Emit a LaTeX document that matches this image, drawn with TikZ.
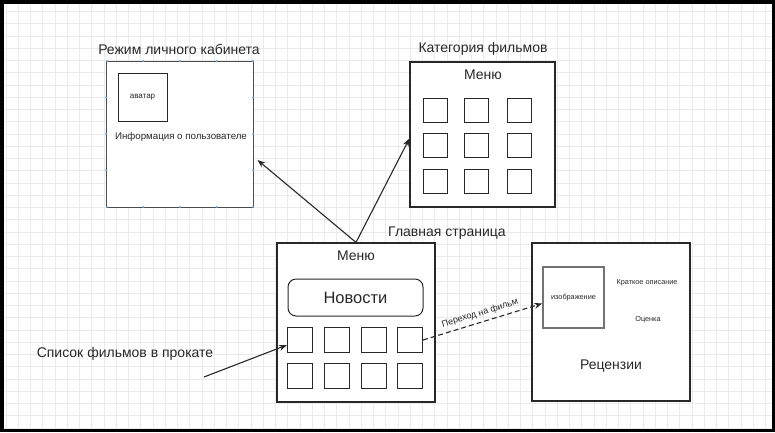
\documentclass[tikz,border=0pt]{standalone}
\usepackage{fontspec}
\setmainfont{Liberation Sans}
\usetikzlibrary{arrows.meta,positioning}
\definecolor{gridgray}{RGB}{234,234,234}
\definecolor{handleblue}{RGB}{110,170,215}
\definecolor{inkgray}{RGB}{40,40,40}

\begin{document}
\begin{tikzpicture}[x=1pt,y=-1pt,
  every node/.style={font=\fontsize{14}{16}\selectfont,text=inkgray,inner sep=0pt},
  box/.style={draw=inkgray,line width=1.2pt,fill=white},
  cell/.style={draw=inkgray,line width=1pt,minimum size=24pt},
  arr/.style={-{Stealth[length=8pt,width=6pt]},line width=1.1pt,draw=inkgray}]
\useasboundingbox (0,0) rectangle (775,432);
% background grid
\fill[white] (0,0) rectangle (775,432);
\foreach \gx in {5.8,18.05,...,775} \draw[gridgray,line width=0.6pt] (\gx,0) -- (\gx,432);
\foreach \gy in {11.5,23.75,...,432} \draw[gridgray,line width=0.6pt] (0,\gy) -- (775,\gy);

% personal cabinet
\node[box,draw=black!70,line width=1pt,minimum width=147pt,minimum height=146pt] (cab) at (179.5,134) {};
\foreach \hx in {107,143.5,180,216.5,253} {
  \fill[handleblue] (\hx,61) circle (1.1pt);
  \fill[handleblue] (\hx,207) circle (1.1pt);
}
\foreach \hy in {97.5,134,170.5} {
  \fill[handleblue] (106,\hy) circle (1.1pt);
  \fill[handleblue] (253,\hy) circle (1.1pt);
}
\node (cabtitle) at (179,49) {Режим личного кабинета};
\node[draw=inkgray,line width=1pt,minimum width=49pt,minimum height=48pt,font=\fontsize{8}{9}\selectfont] (avatar) at (142.5,97) {аватар};
\node[font=\fontsize{9.7}{11}\selectfont] (info) at (181,137) {Информация о пользователе};

% film categories
\node[box,minimum width=145pt,minimum height=145pt] (cat) at (482.5,134.5) {};
\node (cattitle) at (483,49) {Категория фильмов};
\node (catmenu) at (483,75) {Меню};
\foreach \c/\cx in {1/435,2/476.5,3/519.5}
  \foreach \r/\ry in {1/110,2/145.5,3/181}
    \node[cell] (k\r\c) at (\cx,\ry) {};

% main page
\node[box,minimum width=158pt,minimum height=159pt] (main) at (356,322.5) {};
\node (maintitle) at (447,233) {Главная страница};
\node (mainmenu) at (356,256) {Меню};
\node[draw=inkgray,line width=1pt,rounded corners=8pt,minimum width=135pt,minimum height=37pt,font=\fontsize{16.5}{18}\selectfont] (news) at (355.5,297.5) {Новости};
\foreach \c/\cx in {1/300,2/337,3/373.5,4/410}
  \foreach \r/\ry in {1/340,2/376}
    \node[cell,minimum size=25pt] (m\r\c) at (\cx,\ry) {};
\node (list) at (125,354) {Список фильмов в прокате};
\coordinate (liststart) at (204,377);

% film page
\node[box,minimum width=158pt,minimum height=158pt] (film) at (611,322) {};
\node[draw=black!55,line width=1.6pt,minimum size=61pt,font=\fontsize{7.3}{8}\selectfont] (pic) at (573.5,297.5) {изображение};
\node[font=\fontsize{7.3}{8}\selectfont] (descr) at (647,283) {Краткое описание};
\node[font=\fontsize{7.3}{8}\selectfont] (rate) at (648,320) {Оценка};
\node (reviews) at (611,366) {Рецензии};

% arrows
\draw[arr] (main.north) -- ([xshift=4pt,yshift=-26pt]cab.east);
\draw[arr] (main.north) -- ([yshift=-4pt]cat.west);
\draw[arr] (liststart) -- ([yshift=-5pt]m11.west);
\draw[arr,dash pattern=on 5pt off 3pt] (m14.east) -- ([yshift=-6pt]pic.west)
  node[midway,sloped,above=4pt,font=\fontsize{9}{10}\selectfont] {Переход на фильм};

% frame
\draw[black,line width=3.5pt] (1.75,1.75) rectangle (773.25,430.25);
\end{tikzpicture}
\end{document}
